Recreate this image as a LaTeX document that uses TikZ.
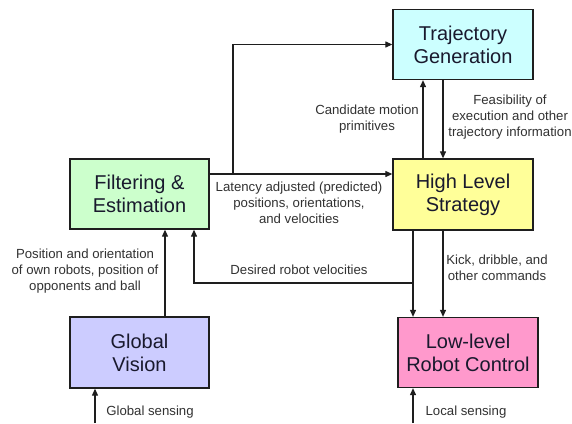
\documentclass[tikz,border=0pt]{standalone}
\usepackage{fontspec}
\setmainfont{Liberation Sans}
\usetikzlibrary{arrows.meta}
\definecolor{cTraj}{RGB}{204,255,255}
\definecolor{cFilt}{RGB}{204,255,204}
\definecolor{cHls}{RGB}{255,255,153}
\definecolor{cGv}{RGB}{204,204,255}
\definecolor{cLlrc}{RGB}{255,153,204}
\definecolor{cLine}{RGB}{30,30,30}
\definecolor{cTxt}{RGB}{50,50,50}
\definecolor{cBoxTxt}{RGB}{25,25,45}
\tikzset{
  blk/.style={draw=cLine, line width=1.3pt, minimum width=140pt, minimum height=70pt,
    align=center, inner sep=0pt, text=cBoxTxt,
    font=\fontsize{20}{23}\selectfont},
  arr/.style={draw=cLine, line width=1.1pt, -{Triangle[length=7pt,width=6pt]}},
  lbl/.style={align=center, text=cTxt, inner sep=0pt, font=\fontsize{13.2}{16}\selectfont}
}
\begin{document}
\begin{tikzpicture}[x=1pt,y=-1pt]
\useasboundingbox (0,0) rectangle (572,423);
\fill[white] (0,0) rectangle (572,423);
% blocks
\node[blk, fill=cTraj] (traj) at (463,44.5) {Trajectory\\Generation};
\node[blk, fill=cHls, minimum height=71pt] (hls) at (463,194.5) {High Level\\Strategy};
\node[blk, fill=cFilt, minimum width=139pt] (filt) at (139.5,194) {Filtering \&\\Estimation};
\node[blk, fill=cGv, minimum width=139pt, minimum height=71pt] (gv) at (139.5,352.5) {Global\\Vision};
\node[blk, fill=cLlrc] (llrc) at (468,352.5) {Low-level\\Robot Control};
% helper coordinates
\coordinate (y174) at (0,174);
\coordinate (br) at (233,174);
\coordinate (x423) at (423,0);
\coordinate (x443) at (443,0);
\coordinate (x413) at (413,0);
\coordinate (x194) at (194,0);
\coordinate (x165) at (165,0);
\coordinate (dv) at (413,283);
\coordinate (gs) at (95,423);
\coordinate (ls) at (413,423);
% connectors
\draw[arr] (filt.east |- y174) -- (hls.west |- y174);
\draw[arr] (br) |- (traj.west);
\draw[arr] (hls.north -| x423) -- (traj.south -| x423);
\draw[arr] (traj.south -| x443) -- (hls.north -| x443);
\draw[arr] (hls.south -| x413) -- (llrc.north -| x413);
\draw[arr] (hls.south -| x443) -- (llrc.north -| x443);
\draw[arr] (dv) -| (filt.south -| x194);
\draw[arr] (gv.north -| x165) -- (filt.south -| x165);
\draw[arr] (gs) -- (gv.south -| gs);
\draw[arr] (ls) -- (llrc.south -| ls);
% labels
\node[lbl] (l1) at (367,119) {Candidate motion\\primitives};
\node[lbl] (l2) at (510,117) {Feasibility of\\execution and other\\trajectory information};
\node[lbl] (l3) at (299,203) {Latency adjusted (predicted)\\positions, orientations,\\and velocities};
\node[lbl] (l4) at (85,271) {Position and orientation\\of own robots, position of\\opponents and ball};
\node[lbl] (l5) at (299,270) {Desired robot velocities};
\node[lbl] (l6) at (497,268) {Kick, dribble, and\\other commands};
\node[lbl] (l7) at (150,412) {Global sensing};
\node[lbl] (l8) at (466,412) {Local sensing};
\end{tikzpicture}
\end{document}
